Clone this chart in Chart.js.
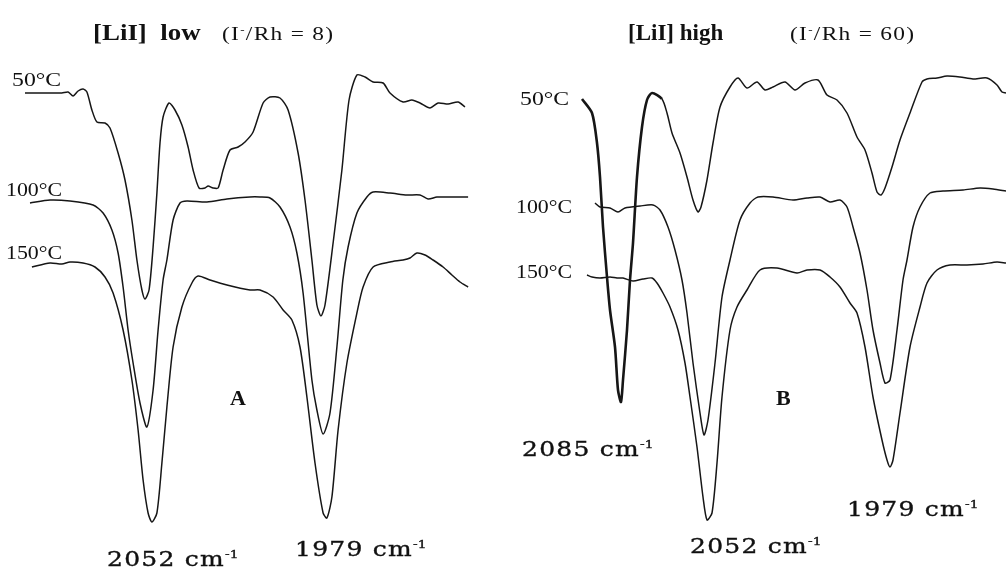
<!DOCTYPE html>
<html>
<head>
<meta charset="utf-8">
<script src="https://cdn.jsdelivr.net/npm/chart.js@4.4.1/dist/chart.umd.min.js"></script>
<style>
  body { margin: 0; background: #fff; }
  #wrap { position: relative; width: 1006px; height: 572px; overflow: hidden; }
  .panel { position: absolute; top: 0; height: 572px; }
  .lbl { position: absolute; font-family: "Liberation Serif", serif; color: #111; white-space: nowrap; transform-origin: left center; }
  .tmp { font-size: 19px; transform: scaleX(1.15); }
  .ttl { font-size: 23px; font-weight: bold; }
  .sub { font-size: 18px; letter-spacing: 1px; transform: scaleX(1.3); }
  .sub sup { font-size: 10px; }
  .wn { position: absolute; font-family: "DejaVu Serif", serif; font-size: 20px; letter-spacing: 1px; color: #111; -webkit-text-stroke: 0.35px #111; white-space: nowrap; transform: scaleX(1.25); transform-origin: left center; }
  .wn sup { font-size: 11px; letter-spacing: 0; }
  .big { font-size: 22px; font-weight: bold; }
</style>
</head>
<body>
<div id="wrap">
  <div class="panel" style="left:0;width:500px"><canvas id="chartA"></canvas></div>
  <div class="panel" style="left:500px;width:506px"><canvas id="chartB"></canvas></div>

  <div class="lbl ttl" style="left:93px;top:20px;transform:scaleX(1.17)">[LiI]&nbsp; low</div>
  <div class="lbl sub" style="left:222px;top:24px">(I<sup>-</sup>/Rh = 8)</div>
  <div class="lbl ttl" style="left:628px;top:20px">[LiI] high</div>
  <div class="lbl sub" style="left:790px;top:24px">(I<sup>-</sup>/Rh = 60)</div>

  <div class="lbl tmp" style="left:12px;top:69px;transform:scaleX(1.25)">50°C</div>
  <div class="lbl tmp" style="left:6px;top:179px">100°C</div>
  <div class="lbl tmp" style="left:6px;top:242px">150°C</div>
  <div class="lbl tmp" style="left:520px;top:88px;transform:scaleX(1.25)">50°C</div>
  <div class="lbl tmp" style="left:516px;top:196px">100°C</div>
  <div class="lbl tmp" style="left:516px;top:261px">150°C</div>

  <div class="lbl big" style="left:230px;top:385px">A</div>
  <div class="lbl big" style="left:776px;top:385px">B</div>

  <div class="wn" style="left:107px;top:547px">2052 cm<sup>-1</sup></div>
  <div class="wn" style="left:295px;top:537px">1979 cm<sup>-1</sup></div>
  <div class="wn" style="left:522px;top:437px">2085 cm<sup>-1</sup></div>
  <div class="wn" style="left:690px;top:534px">2052 cm<sup>-1</sup></div>
  <div class="wn" style="left:847px;top:497px">1979 cm<sup>-1</sup></div>
</div>

<script>
// Panel A - [LiI] low : wavenumber (cm-1) and transmittance (a.u., offset per trace)
const wnA50 = [2103.5,2091.7,2088.0,2085.4,2083.3,2081.2,2079.1,2077.5,2075.4,2073.3,2069.9,2067.8,2064.4,2061.5,2058.6,2056.5,2054.4,2053.1,2051.4,2049.7,2048.1,2046.8,2045.5,2043.0,2040.5,2037.6,2035.0,2032.9,2030.4,2027.9,2026.6,2024.5,2022.4,2020.3,2017.4,2014.0,2011.1,2007.7,2003.5,2000.6,1996.4,1993.0,1988.8,1985.9,1983.0,1980.9,1979.2,1977.5,1974.1,1970.4,1967.4,1964.1,1960.7,1957.3,1953.1,1950.2,1944.7,1941.0,1937.6,1933.4,1930.0,1925.8,1921.6,1918.7];
const trA50 = [479,479,479,480,476,481,483,480,462,450,449,444,419,392,352,312,282,273,282,325,379,429,455,469,462,447,425,402,384,384,386,384,384,402,422,425,430,440,469,475,474,462,419,372,312,267,256,267,329,402,472,497,495,490,489,479,470,472,469,464,469,468,470,465];

const wnA100 = [2101.4,2093.0,2084.6,2074.9,2070.7,2067.0,2064.4,2062.3,2060.2,2058.1,2055.2,2052.3,2049.7,2047.6,2045.5,2043.9,2041.3,2038.4,2035.5,2027.1,2018.7,2009.0,2004.8,2000.6,1996.4,1992.2,1989.3,1986.7,1983.0,1980.9,1978.3,1975.4,1972.5,1970.0,1967.8,1964.1,1959.9,1957.3,1950.2,1943.1,1937.6,1934.2,1930.5,1925.0,1917.4];
const trA100 = [369,372,371,367,359,342,319,285,242,209,169,145,182,242,292,312,352,369,371,370,373,375,375,374,365,345,319,279,192,162,138,159,225,292,325,359,375,380,379,377,377,373,375,375,375];

const wnA150 = [2100.6,2093.0,2088.0,2084.6,2079.1,2074.1,2069.9,2066.5,2062.3,2058.6,2056.0,2053.9,2051.8,2050.2,2048.1,2046.0,2043.9,2041.3,2037.6,2033.4,2030.8,2025.8,2018.7,2009.0,2004.8,1999.3,1995.1,1991.4,1988.0,1985.1,1981.7,1978.3,1976.7,1974.6,1972.0,1968.3,1964.1,1961.5,1957.3,1950.2,1944.7,1941.8,1938.9,1935.5,1932.1,1927.9,1924.2,1920.8,1917.4];
const trA150 = [305,309,308,310,309,305,295,279,242,192,142,92,59,50,59,109,165,225,265,289,296,292,287,282,282,275,262,252,225,175,109,59,54,75,142,209,259,285,305,310,312,314,319,317,312,305,297,290,285];

// Panel B - [LiI] high
const wnB50 = [2101.2,2097.2,2095.2,2094.0,2092.8,2091.2,2090.0,2088.0,2086.8,2085.6,2084.8,2083.2,2082.0,2080.8,2079.2,2077.2,2075.2,2073.2,2069.2,2067.2,2065.2,2062.0,2059.2,2056.8,2054.8,2053.6,2051.2,2048.8,2046.0,2042.0,2038.8,2035.2,2031.2,2028.0,2024.8,2020.0,2016.0,2012.0,2006.8,2003.2,1999.2,1995.2,1991.2,1988.0,1985.2,1983.2,1981.6,1980.0,1977.2,1974.0,1970.0,1965.2,1963.2,1959.2,1955.2,1950.0,1944.8,1939.2,1935.2,1933.2,1931.6];
const trB50 = [473,459,429,395,345,295,262,225,182,170,192,242,292,329,395,445,472,479,473,459,439,419,395,372,360,365,392,429,465,485,494,484,490,482,485,490,482,489,492,477,472,459,435,422,399,380,377,384,405,432,459,490,493,494,496,495,493,494,487,480,479];

const wnB100 = [2096.0,2094.0,2090.0,2086.8,2084.0,2078.0,2072.8,2070.0,2066.8,2064.0,2061.2,2059.2,2056.8,2054.0,2052.4,2050.8,2048.0,2045.2,2042.0,2038.0,2034.0,2030.8,2024.8,2016.8,2011.2,2006.0,2002.0,1998.0,1995.2,1992.8,1990.0,1987.2,1984.8,1982.0,1980.0,1978.0,1975.2,1972.8,1971.2,1968.8,1966.0,1962.0,1956.8,1948.8,1942.0,1936.8,1931.6];
const trB100 = [369,365,364,360,364,366,367,362,345,322,292,259,209,159,137,152,209,275,312,352,369,375,375,372,374,375,370,372,365,345,319,282,242,209,189,192,242,292,312,345,365,379,381,382,384,383,381];

const wnB150 = [2099.2,2097.2,2094.0,2090.0,2087.2,2084.8,2080.8,2076.8,2073.2,2071.2,2068.8,2066.0,2062.8,2060.0,2058.0,2055.2,2052.8,2051.2,2049.2,2047.2,2045.2,2042.0,2039.2,2035.2,2030.0,2023.2,2015.2,2011.2,2006.0,2002.0,1998.0,1994.0,1991.2,1988.0,1984.8,1981.2,1979.2,1978.0,1976.8,1974.0,1970.0,1966.0,1963.2,1959.2,1954.0,1947.2,1940.8,1935.2,1931.6];
const trB150 = [297,295,294,295,294,294,291,293,294,289,279,265,242,209,175,125,75,52,59,109,175,242,265,282,302,304,299,302,302,295,285,269,259,225,175,132,112,105,112,159,225,265,289,302,307,307,308,310,309];

// wavenumber windows of the two panels
const rangeA = [1904, 2114];
const rangeB = [1931.6, 2134];

function pts(xs, ys) {
  return xs.map((x, i) => ({ x: x, y: ys[i] }));
}

function trace(xs, ys, extra) {
  return Object.assign({
    data: pts(xs, ys),
    borderColor: "#161616",
    borderWidth: 1.5,
    pointRadius: 0,
    tension: 0.25,
    fill: false,
    clip: false
  }, extra || {});
}

function makeChart(id, range, sets) {
  return new Chart(document.getElementById(id), {
    type: "line",
    data: { datasets: sets },
    options: {
      responsive: true,
      maintainAspectRatio: false,
      animation: false,
      layout: { padding: 0 },
      plugins: { legend: { display: false }, tooltip: { enabled: false } },
      scales: {
        x: { type: "linear", reverse: true, min: range[0], max: range[1], display: false },
        y: { min: 0, max: 572, display: false }
      }
    }
  });
}

makeChart("chartA", rangeA, [
  trace(wnA50, trA50),
  trace(wnA100, trA100),
  trace(wnA150, trA150)
]);

makeChart("chartB", rangeB, [
  // the 2085 band of the 50°C trace is drawn heavier in the original
  trace(wnB50, trB50, { segment: { borderWidth: ctx => ctx.p0.parsed.x > 2073 ? 2.6 : 1.5 } }),
  trace(wnB100, trB100),
  trace(wnB150, trB150)
]);
</script>
</body>
</html>
